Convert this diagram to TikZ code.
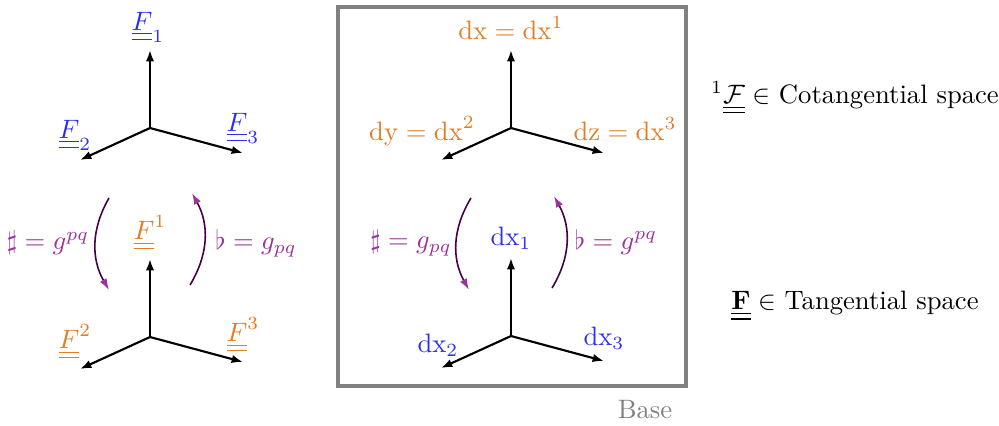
\documentclass[tikz,border=0pt]{standalone}
\usepackage{amsmath,amssymb}
\usetikzlibrary{arrows.meta}
\definecolor{tanblue}{RGB}{45,45,245}
\definecolor{cotorange}{RGB}{225,125,35}
\definecolor{muspurple}{RGB}{155,50,155}
\definecolor{musdark}{RGB}{70,0,70}
\tikzset{
  axisarr/.style={-{Latex[length=1.5mm,width=1.1mm]},thick},
  musarr/.style={-{Latex[length=1.5mm,width=1mm,color=muspurple]},semithick,draw=musdark},
  tanlbl/.style={text=tanblue,inner sep=1pt},
  cotlbl/.style={text=cotorange,inner sep=1pt},
  muslbl/.style={text=muspurple,inner sep=1pt},
  basebox/.style={draw=gray,very thick},
  spacelbl/.style={inner sep=1pt}
}
\begin{document}
\begin{tikzpicture}[x=0.0132cm,y=-0.0132cm]
  \useasboundingbox (0,0) rectangle (999,425);

  % the four frames: origin, up, left, right
  \foreach \n/\x/\y in {fa/150/128,fb/150/337,fc/511/128,fd/511/336}{
    \coordinate (\n o) at (\x,\y);
    \coordinate (\n u) at (\x,\y-78);
    \coordinate (\n l) at (\x-70,\y+32);
    \coordinate (\n r) at (\x+93,\y+25);
    \draw[axisarr] (\n o) -- (\n u);
    \draw[axisarr] (\n o) -- (\n l);
    \draw[axisarr] (\n o) -- (\n r);
  }

  % left column: frame and coframe
  \node[tanlbl] (F1) at (148,27) {$\underline{\underline{F}}_1$};
  \node[tanlbl] (F2) at (75,135) {$\underline{\underline{F}}_2$};
  \node[tanlbl] (F3) at (243,128) {$\underline{\underline{F}}_3$};
  \node[cotlbl] (Fu1) at (150,233) {$\underline{\underline{F}}^1$};
  \node[cotlbl] (Fu2) at (75,342) {$\underline{\underline{F}}^2$};
  \node[cotlbl] (Fu3) at (243,335) {$\underline{\underline{F}}^3$};

  \coordinate (sa) at (109,198); \coordinate (sb) at (109,290);
  \coordinate (fa) at (190,285); \coordinate (fb) at (192,193);
  \draw[musarr] (sa) to[bend right=30] (sb);
  \draw[musarr] (fa) to[bend right=30] (fb);
  \node[muslbl] (sharpL) at (48,243) {$\sharp=g^{pq}$};
  \node[muslbl] (flatL) at (256,243) {$\flat=g_{pq}$};

  % base box
  \draw[basebox] (338,7) rectangle (686,386);
  \node[text=gray] (base) at (645,410) {Base};

  \node[cotlbl] (dx) at (511,28) {$\mathrm{dx}=\mathrm{dx}^1$};
  \node[cotlbl] (dy) at (422,131) {$\mathrm{dy}=\mathrm{dx}^2$};
  \node[cotlbl] (dz) at (625,129) {$\mathrm{dz}=\mathrm{dx}^3$};
  \node[tanlbl] (dxa) at (511,238) {$\mathrm{dx}_1$};
  \node[tanlbl] (dxb) at (438,345) {$\mathrm{dx}_2$};
  \node[tanlbl] (dxc) at (604,338) {$\mathrm{dx}_3$};

  \coordinate (sc) at (471,198); \coordinate (sd) at (469,290);
  \coordinate (fc) at (552,288); \coordinate (fd) at (554,196);
  \draw[musarr] (sc) to[bend right=30] (sd);
  \draw[musarr] (fc) to[bend right=30] (fd);
  \node[muslbl] (sharpR) at (411,243) {$\sharp=g_{pq}$};
  \node[muslbl] (flatR) at (616,242) {$\flat=g^{pq}$};

  % legend
  \node[spacelbl] (cotspace) at (855,98) {$^1\underline{\underline{\mathcal{F}}}\in$ Cotangential space};
  \node[spacelbl] (tanspace) at (855,306) {$\underline{\underline{\mathbf{F}}}\in$ Tangential space};
\end{tikzpicture}
\end{document}
